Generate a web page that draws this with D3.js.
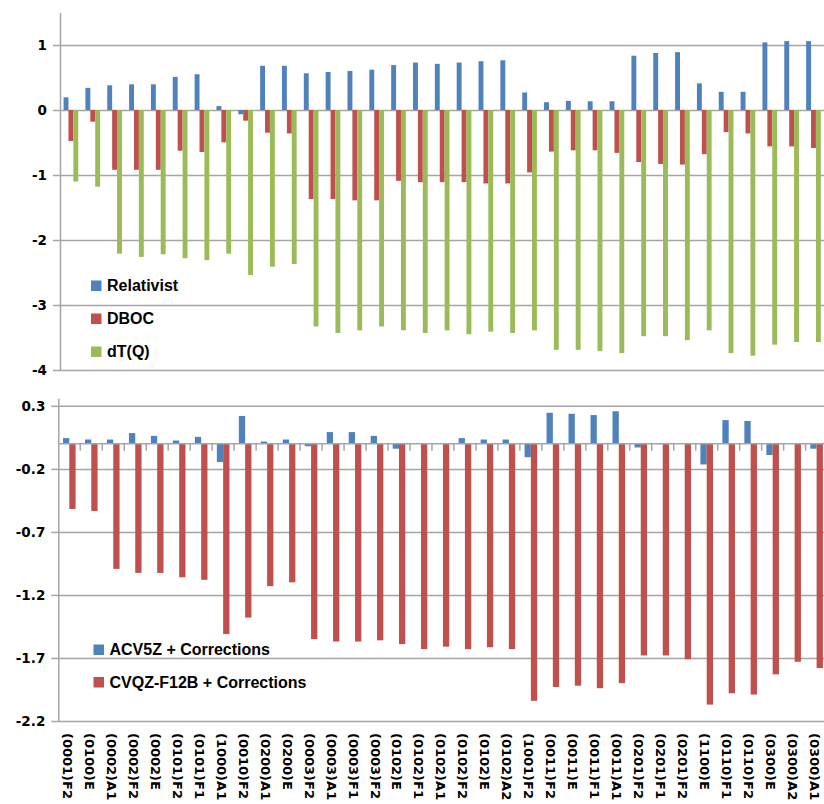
<!DOCTYPE html>
<html>
<head>
<meta charset="utf-8">
<script src="https://cdnjs.cloudflare.com/ajax/libs/d3/7.8.5/d3.min.js"></script>
<style>
  body { margin: 0; background: #fff; }
  .grid line { stroke: #a5a5a5; stroke-width: 1.5; }
  .grid path { display: none; }
  .yaxis path, .yaxis line { stroke: #a5a5a5; stroke-width: 1.5; }
  .yaxis text { font-family: "DejaVu Sans"; font-weight: bold; font-size: 13.5px; fill: #000; }
</style>
</head>
<body>
<script>
// vibrational level labels
var categories = ["(0001)F2", "(0100)E", "(0002)A1", "(0002)F2", "(0002)E", "(0101)F2", "(0101)F1",
    "(1000)A1", "(0010)F2", "(0200)A1", "(0200)E", "(0003)F2", "(0003)A1", "(0003)F1", "(0003)F2",
    "(0102)E", "(0102)F1", "(0102)A1", "(0102)F2", "(0102)E", "(0102)A2", "(1001)F2", "(0011)F2",
    "(0011)E", "(0011)F1", "(0011)A1", "(0201)F2", "(0201)F1", "(0201)F2", "(1100)E", "(0110)F1",
    "(0110)F2", "(0300)E", "(0300)A2", "(0300)A1"];

// top panel series
var relativist = [0.195, 0.34, 0.38, 0.395, 0.395, 0.51, 0.55, 0.06, -0.066, 0.68, 0.68, 0.565, 0.585,
    0.60, 0.62, 0.69, 0.73, 0.71, 0.73, 0.75, 0.765, 0.27, 0.12, 0.14, 0.134, 0.134, 0.835, 0.877,
    0.89, 0.41, 0.28, 0.28, 1.04, 1.06, 1.06];
var dboc = [-0.477, -0.18, -0.92, -0.92, -0.92, -0.626, -0.646, -0.497, -0.164, -0.349, -0.36, -1.37,
    -1.37, -1.39, -1.39, -1.09, -1.11, -1.11, -1.11, -1.13, -1.13, -0.96, -0.64, -0.62, -0.62, -0.66,
    -0.80, -0.83, -0.84, -0.68, -0.34, -0.36, -0.56, -0.56, -0.585];
var dtq = [-1.10, -1.18, -2.21, -2.26, -2.22, -2.28, -2.31, -2.21, -2.54, -2.41, -2.37, -3.33, -3.43,
    -3.39, -3.33, -3.39, -3.43, -3.39, -3.45, -3.41, -3.43, -3.39, -3.69, -3.69, -3.71, -3.74, -3.48,
    -3.48, -3.54, -3.39, -3.74, -3.78, -3.61, -3.57, -3.57];

// bottom panel series
var acv5z = [0.044, 0.033, 0.033, 0.084, 0.062, 0.025, 0.054, -0.145, 0.22, 0.017, 0.033, -0.02, 0.092,
    0.092, 0.062, -0.04, 0.004, 0.002, 0.044, 0.033, 0.033, -0.107, 0.245, 0.237, 0.227, 0.257, -0.03,
    -0.004, 0.002, -0.165, 0.187, 0.18, -0.09, 0.002, -0.04];
var cvqz = [-0.518, -0.534, -0.993, -1.025, -1.025, -1.06, -1.08, -1.51, -1.38, -1.13, -1.10, -1.55,
    -1.57, -1.57, -1.56, -1.59, -1.63, -1.61, -1.63, -1.615, -1.63, -2.04, -1.93, -1.92, -1.94, -1.90,
    -1.68, -1.68, -1.71, -2.07, -1.98, -1.99, -1.83, -1.73, -1.78];

var topTicks = [1, 0, -1, -2, -3, -4];
var bottomTicks = [0.3, -0.2, -0.7, -1.2, -1.7, -2.2];

var colors = { blue: "#4F81BD", red: "#C0504D", green: "#9BBB59" };

var svg = d3.select("body")
    .append("svg")
    .attr("width", 824)
    .attr("height", 804);

function drawPanel(p) {
    var x0 = d3.scaleBand()
        .domain(d3.range(categories.length))
        .range([p.left, p.right]);

    var x1 = d3.scaleBand()
        .domain(p.series.map(s => s.name))
        .range([0, x0.bandwidth()])
        .paddingOuter(p.pad);

    var y = d3.scaleLinear()
        .domain(p.domain)
        .range([p.bottom, p.top]);

    var g = svg.append("g");

    // gridlines
    g.append("g")
        .attr("class", "grid")
        .attr("transform", `translate(${p.left},0)`)
        .call(d3.axisLeft(y).tickValues(p.ticks).tickSize(-(824 - p.left)).tickFormat(""));

    // y axis with outside ticks
    g.append("g")
        .attr("class", "yaxis")
        .attr("transform", `translate(${p.left},0)`)
        .call(d3.axisLeft(y).tickValues(p.ticks).tickSizeInner(7).tickSizeOuter(0)
            .tickPadding(6).tickFormat(d => String(d)));

    // bars
    p.series.forEach(function (s) {
        g.append("g").selectAll("rect")
            .data(s.values)
            .enter()
            .append("rect")
            .attr("x", (d, i) => x0(i) + x1(s.name))
            .attr("width", x1.bandwidth())
            .attr("y", d => y(Math.max(0, d)))
            .attr("height", d => Math.abs(y(d) - y(0)))
            .attr("fill", s.color);
    });

    // category axis at zero (bottom panel only)
    if (p.zeroAxis) {
        g.append("line")
            .attr("x1", p.left).attr("x2", 824)
            .attr("y1", y(0)).attr("y2", y(0))
            .attr("stroke", "#a5a5a5")
            .attr("stroke-width", 1.5);
        g.append("g").selectAll("line")
            .data(d3.range(1, categories.length))
            .enter()
            .append("line")
            .attr("x1", i => x0(i)).attr("x2", i => x0(i))
            .attr("y1", y(0)).attr("y2", y(0) + 7)
            .attr("stroke", "#a5a5a5")
            .attr("stroke-width", 1.5);
    }

    // legend
    var leg = g.append("g").selectAll("g")
        .data(p.series)
        .enter()
        .append("g")
        .attr("transform", (d, i) => `translate(${p.legX},${p.legY + i * p.legStep})`);
    leg.append("rect")
        .attr("x", 0).attr("y", -10.5)
        .attr("width", 10.5).attr("height", 10.5)
        .attr("fill", d => d.color);
    leg.append("text")
        .attr("x", 16).attr("y", 0)
        .attr("font-family", "Liberation Sans, Arial")
        .attr("font-weight", "bold")
        .attr("font-size", 16)
        .text(d => d.label);

    return x0;
}

drawPanel({
    left: 60, right: 824.4, top: 12.5, bottom: 370,
    domain: [-4, 1.5], ticks: topTicks, pad: 0.73,
    series: [
        { name: "rel", label: "Relativist", values: relativist, color: colors.blue },
        { name: "dboc", label: "DBOC", values: dboc, color: colors.red },
        { name: "dtq", label: "dT(Q)", values: dtq, color: colors.green }
    ],
    legX: 91, legY: 291, legStep: 33
});

var xBottom = drawPanel({
    left: 58.3, right: 827.6, top: 398.3, bottom: 721,
    domain: [-2.2, 0.36], ticks: bottomTicks, pad: 0.745, zeroAxis: true,
    series: [
        { name: "acv", label: "ACV5Z + Corrections", values: acv5z, color: colors.blue },
        { name: "cvqz", label: "CVQZ-F12B + Corrections", values: cvqz, color: colors.red }
    ],
    legX: 93.5, legY: 655, legStep: 32.5
});

// rotated category labels under the bottom panel
svg.append("g").selectAll("text")
    .data(categories)
    .enter()
    .append("text")
    .attr("transform", (d, i) => `translate(${xBottom(i) + xBottom.bandwidth() / 2 - 2},733) rotate(90)`)
    .attr("dominant-baseline", "central")
    .attr("font-family", "DejaVu Sans")
    .attr("font-weight", "bold")
    .attr("font-size", 13)
    .text(d => d);
</script>
</body>
</html>
